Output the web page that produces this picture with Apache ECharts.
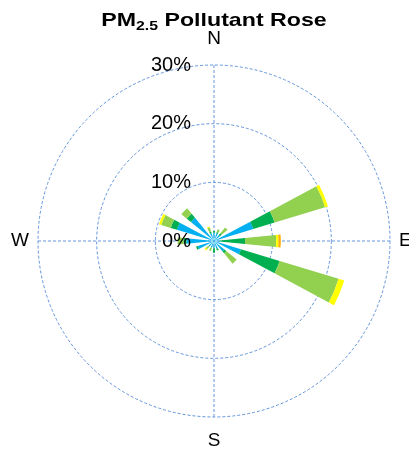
<!DOCTYPE html>
<html lang="en">
<head>
    <meta charset="UTF-8">
    <title>PM2.5 Pollutant Rose</title>
    <style>
        html, body { margin: 0; padding: 0; background: #fff; }
        #main { width: 409px; height: 450px; }
    </style>
</head>
<body>
<div id="main"></div>
<script src="https://cdn.jsdelivr.net/npm/echarts@6/dist/echarts.min.js"></script>
<script>
    const myChart = echarts.init(document.getElementById('main'));

    // 16 compass sectors, clockwise from north
    const directions = ['N', 'NNE', 'NE', 'ENE', 'E', 'ESE', 'SE', 'SSE',
                        'S', 'SSW', 'SW', 'WSW', 'W', 'WNW', 'NW', 'NNW'];
    // stacked share (%) of each concentration band, per sector
    const band1 = [1.4, 1.4, 1.3, 7.0, 1.0, 4.8, 2.3, 1.4, 1.2, 1.2, 1.2, 2.9, 4.7, 6.6, 5.1, 1.4];
    const band2 = [0.3, 0.2, 0.4, 3.8, 4.3, 6.9, 0.4, 0.3, 0.8, 0, 0, 0.3, 0.5, 1.1, 0.9, 0.3];
    const band3 = [0, 0.5, 1.3, 9.0, 5.3, 10.5, 2.3, 0, 0, 0.6, 0.6, 0, 1.0, 1.7, 1.2, 0.7];
    const band4 = [0, 0, 0, 0.5, 0.4, 1.0, 0, 0, 0, 0, 0.3, 0, 0, 0.4, 0, 0.2];
    const band5 = [0, 0, 0, 0, 0.4, 0, 0, 0, 0, 0, 0, 0, 0, 0, 0, 0];
    const bandNames = ['Band 1', 'Band 2', 'Band 3', 'Band 4', 'Band 5'];
    const bandColors = ['#00B0F0', '#00B050', '#92D050', '#FFFF00', '#FFB000'];
    const compass = {0: 'N', 90: 'E', 180: 'S', 270: 'W'};

    const font = 'Liberation Sans, Arial, Helvetica, sans-serif';
    const gridColor = '#6496dc';
    const center = [214, 241];
    const radius = 176;

    const series = [band1, band2, band3, band4, band5].map((vals, i) => ({
        name: bandNames[i],
        type: 'bar',
        coordinateSystem: 'polar',
        polarIndex: 0,
        stack: 'rose',
        barWidth: '50%',
        itemStyle: {color: bandColors[i]},
        data: vals
    }));

    const option = {
        backgroundColor: '#fff',
        animation: false,
        graphic: [{
            type: 'text',
            x: 214,
            y: 21,
            scaleX: 1.22,
            style: {
                x: 0,
                y: 0,
                text: '{a|PM}{b|2.5}{a| Pollutant Rose}',
                align: 'center',
                verticalAlign: 'middle',
                rich: {
                    a: {fontFamily: font, fontWeight: 'bold', fontSize: 19, fill: '#000'},
                    b: {fontFamily: font, fontWeight: 'bold', fontSize: 13, fill: '#000',
                        padding: [10, 0, 0, 0]}
                }
            }
        }],
        polar: [
            {center: center, radius: radius},
            {center: center, radius: radius},
            {center: center, radius: radius}
        ],
        angleAxis: [
            {
                polarIndex: 0, type: 'category', data: directions,
                startAngle: 90 + 180 / directions.length, show: false
            },
            {
                polarIndex: 1, type: 'value', min: 0, max: 360, interval: 90,
                startAngle: 90,
                axisLine: {show: false},
                axisTick: {show: false},
                axisLabel: {
                    margin: 9,
                    color: '#000',
                    fontFamily: font,
                    fontSize: 19,
                    formatter: v => {
                        const t = compass[v] || '';
                        if (t === 'N') return '{n|N}';
                        if (t === 'S') return '{s|S}';
                        return t;
                    },
                    rich: {
                        n: {fontFamily: font, fontSize: 19, color: '#000', padding: [0, 0, 8, 0]},
                        s: {fontFamily: font, fontSize: 19, color: '#000', padding: [5, 0, 0, 0]}
                    }
                },
                splitLine: {show: true, lineStyle: {color: gridColor, type: [3, 2], width: 1}}
            },
            {polarIndex: 2, type: 'value', min: 0, max: 360, startAngle: 90, show: false}
        ],
        radiusAxis: [
            {polarIndex: 0, type: 'value', min: 0, max: 30, show: false},
            {
                polarIndex: 1, type: 'value', min: 0, max: 30, interval: 10,
                axisLine: {show: false},
                axisTick: {show: false},
                axisLabel: {show: false},
                splitLine: {show: true, lineStyle: {color: gridColor, type: [3, 2], width: 1}}
            },
            {
                polarIndex: 2, type: 'value', min: 0, max: 30, interval: 10, z: 10,
                axisLine: {show: false},
                axisTick: {show: false},
                splitLine: {show: false},
                axisLabel: {
                    margin: 23,
                    color: '#000',
                    fontFamily: font,
                    fontSize: 20,
                    formatter: '{value}%'
                }
            }
        ],
        series: series
    };

    myChart.setOption(option);
</script>
</body>
</html>
